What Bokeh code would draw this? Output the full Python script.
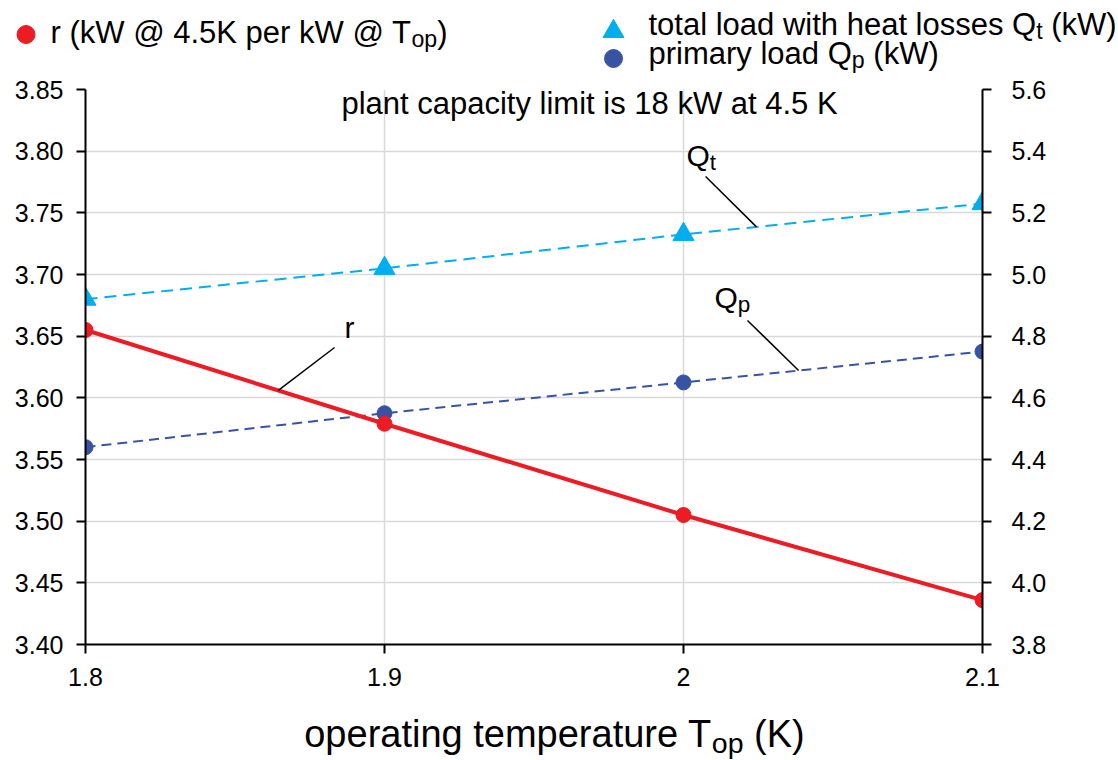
import numpy as np
from bokeh.plotting import figure
from bokeh.layouts import column
from bokeh.models import Range1d, LinearAxis, FixedTicker, Label, PrintfTickFormatter
from bokeh.embed import file_html
from bokeh.resources import INLINE

# ---------------- data ----------------
temps = [1.8, 1.9, 2.0, 2.1]
r_ratio = [3.655, 3.579, 3.505, 3.436]      # left axis
q_total = [4.92, 5.02, 5.13, 5.23]          # right axis (kW)
q_primary = [4.44, 4.55, 4.65, 4.75]        # right axis (kW)
x_ticks = [1.8, 1.9, 2.0, 2.1]
x_tick_labels = ["1.8", "1.9", "2", "2.1"]
left_ticks = [3.40, 3.45, 3.50, 3.55, 3.60, 3.65, 3.70, 3.75, 3.80, 3.85]
right_ticks = [3.8, 4.0, 4.2, 4.4, 4.6, 4.8, 5.0, 5.2, 5.4, 5.6]

RED = "#ed1c24"
LBLUE = "#00aeef"
DBLUE = "#3953a4"
FONT = "Liberation Sans"

# canvas geometry (px)
W_, H_ = 1118, 760
TOP_H = 74            # legend strip
MAIN_BOTTOM = 700     # main figure ends here
FL, FR, FT, FB = 85, 982, 89, 644

# ---------------- rich text helper ----------------
AW = {' ': 278, '(': 333, ')': 333, '.': 278, '@': 1015, 'a': 556, 'b': 556, 'c': 500,
      'd': 556, 'e': 556, 'f': 278, 'g': 556, 'h': 556, 'i': 222, 'j': 222, 'k': 500,
      'l': 222, 'm': 833, 'n': 556, 'o': 556, 'p': 556, 'q': 556, 'r': 333, 's': 500,
      't': 278, 'u': 556, 'v': 500, 'w': 722, 'x': 500, 'y': 500, 'z': 500,
      'K': 667, 'W': 944, 'T': 611, 'Q': 778}
SUB = 0.75
BASE_FIX = 0.36   # renderer places "alphabetic" text this many em lower

def tw(s, size):
    return sum(AW.get(c, 556) for c in s) * size / 1000.0

def rich(fig, origin, parts, X, Y, size, anchor="left", color="black", sub_drop=0.14):
    """parts: (text, is_sub); X, Y: page px of baseline; origin: page px of fig frame bottom-left."""
    ox, oy = origin
    sizes = [size * SUB if sub else size for _, sub in parts]
    total = sum(tw(t, s) for (t, _), s in zip(parts, sizes))
    off = -total / 2 if anchor == "center" else 0.0
    for (txt, sub), fs in zip(parts, sizes):
        lead = len(txt) - len(txt.lstrip(' '))
        off += tw(' ' * lead, fs)
        body = txt.lstrip(' ')
        dy = BASE_FIX * fs - (size * sub_drop if sub else 0)
        fig.add_layout(Label(x=X - ox, y=oy - Y, x_units="screen", y_units="screen",
                             x_offset=off, y_offset=dy,
                             text=body, text_font=FONT, text_font_size=f"{fs:.1f}px",
                             text_color=color, text_align="left", text_baseline="alphabetic"))
        off += tw(body, fs)

def blank_fig(h):
    f = figure(width=W_, height=h, output_backend="svg", toolbar_location=None,
               x_axis_type=None, y_axis_type=None, min_border=0, frame_align=False,
               x_range=Range1d(0, W_), y_range=Range1d(h, 0))
    f.outline_line_color = None
    f.grid.visible = False
    return f

# ---------------- legend strip ----------------
top = blank_fig(TOP_H)
top.scatter([25.5], [34], marker="circle", size=18, fill_color=RED, line_color=RED)
top.scatter([613], [31], marker="triangle", size=21, fill_color=LBLUE, line_color=LBLUE)
top.scatter([613], [58], marker="circle", size=18, fill_color=DBLUE, line_color=DBLUE)
rich(top, (0, TOP_H), [("r (kW @ 4.5K per kW @ T", False), ("op", True), (")", False)], 50, 43, 31)
rich(top, (0, TOP_H), [("total load with heat losses Q", False), ("t", True), (" (kW)", False)], 648, 35, 31)
rich(top, (0, TOP_H), [("primary load Q", False), ("p", True), (" (kW)", False)], 648, 64.5, 31,
     sub_drop=0.12)

# ---------------- main chart ----------------
p = figure(width=W_, height=MAIN_BOTTOM - TOP_H, output_backend="svg", toolbar_location=None,
           x_range=Range1d(1.8, 2.1), y_range=Range1d(3.40, 3.85), frame_align=False,
           min_border_left=FL, min_border_right=W_ - FR,
           min_border_top=FT - TOP_H, min_border_bottom=MAIN_BOTTOM - FB)
p.extra_y_ranges = {"right": Range1d(3.8, 5.6)}
p.outline_line_color = None

def style_axis(ax):
    ax.axis_line_color = "black"
    ax.axis_line_width = 2
    ax.major_tick_line_color = "black"
    ax.major_tick_line_width = 2
    ax.major_tick_out = 9
    ax.major_tick_in = 0
    ax.minor_tick_line_color = None
    ax.major_label_text_font = FONT
    ax.major_label_text_font_size = "25px"
    ax.major_label_text_color = "black"

p.xaxis.ticker = FixedTicker(ticks=x_ticks)
p.xaxis.major_label_overrides = {t: l for t, l in zip(x_ticks, x_tick_labels)}
style_axis(p.xaxis[0])
p.xaxis.major_label_standoff = 14

p.yaxis.ticker = FixedTicker(ticks=left_ticks)
p.yaxis.formatter = PrintfTickFormatter(format="%.2f")
style_axis(p.yaxis[0])
p.yaxis.major_label_standoff = 13

ra = LinearAxis(y_range_name="right", ticker=FixedTicker(ticks=right_ticks),
                formatter=PrintfTickFormatter(format="%.1f"))
style_axis(ra)
ra.major_label_standoff = 20
p.add_layout(ra, "right")

p.xgrid.ticker = FixedTicker(ticks=x_ticks)
p.ygrid.ticker = FixedTicker(ticks=left_ticks)
for g in (p.xgrid[0], p.ygrid[0]):
    g.grid_line_color = "#d9d9d9"
    g.grid_line_width = 1.5

# series
p.line(temps, q_total, y_range_name="right", line_color=LBLUE, line_width=2, line_dash="12 7")
p.line(temps, q_primary, y_range_name="right", line_color=DBLUE, line_width=2, line_dash="10 6")
p.line(temps, r_ratio, line_color=RED, line_width=4)
p.scatter(temps, q_total, y_range_name="right", marker="triangle", size=21,
          fill_color=LBLUE, line_color=LBLUE)
p.scatter(temps, q_primary, y_range_name="right", marker="circle", size=15,
          fill_color=DBLUE, line_color=DBLUE)
p.scatter(temps, r_ratio, marker="circle", size=15, fill_color=RED, line_color=RED)

# leader lines (start on the series, end near the label)
lead_r = (1.8645, 1.8833, 3.6408)
lead_qt = (2.0244, 2.0074, 5.318)
lead_qp = (2.0385, 2.0214, 4.851)
p.segment(x0=[lead_r[0]], y0=[float(np.interp(lead_r[0], temps, r_ratio))],
          x1=[lead_r[1]], y1=[lead_r[2]], line_color="black", line_width=1.5)
p.segment(x0=[lead_qt[0], lead_qp[0]],
          y0=[float(np.interp(lead_qt[0], temps, q_total)), float(np.interp(lead_qp[0], temps, q_primary))],
          x1=[lead_qt[1], lead_qp[1]], y1=[lead_qt[2], lead_qp[2]],
          y_range_name="right", line_color="black", line_width=1.5)

MO = (FL, FB)
rich(p, MO, [("plant capacity limit is 18 kW at 4.5 K", False)], 589, 114, 31, anchor="center")
rich(p, MO, [("r", False)], 344, 338, 30)
rich(p, MO, [("Q", False), ("t", True)], 686, 166, 30)
rich(p, MO, [("Q", False), ("p", True)], 714, 308, 30)

# ---------------- x axis title strip ----------------
BOT_H = H_ - MAIN_BOTTOM
bot = blank_fig(BOT_H)
rich(bot, (0, BOT_H), [("operating temperature T", False), ("op", True), (" (K)", False)],
     554, 747 - MAIN_BOTTOM, 38, anchor="center")

layout = column(top, p, bot, spacing=0)
open("out.html", "w").write(file_html(layout, INLINE))
